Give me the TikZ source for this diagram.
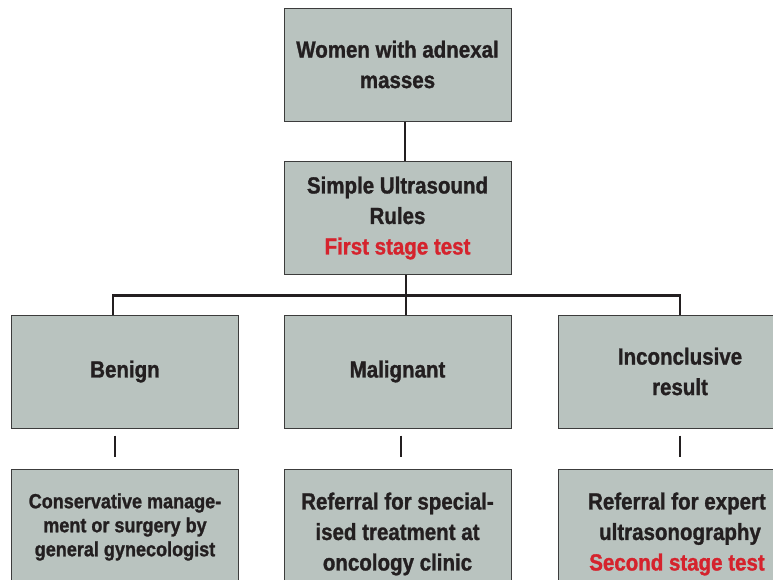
\documentclass[tikz,border=0pt]{standalone}
\usepackage{fontspec}
\setmainfont{Liberation Sans}[FakeStretch=0.88,BoldFeatures={FakeBold=1.2}]
\definecolor{boxfill}{RGB}{185,195,191}
\definecolor{boxline}{RGB}{60,60,60}
\definecolor{ink}{RGB}{35,31,32}
\definecolor{redtxt}{RGB}{213,35,45}
\newcommand{\lsh}{\hspace*{6pt}}
\begin{document}
\begin{tikzpicture}[x=1pt,y=-1pt,
  box/.style={draw=boxline, line width=1pt, fill=boxfill, rectangle, inner sep=0pt,
    minimum width=227pt, minimum height=113pt, align=center, text=ink,
    font=\bfseries\fontsize{23.3}{30.5}\selectfont},
  lowbox/.style={box, minimum height=130pt},
  widebox/.style={minimum width=244pt},
  conn/.style={draw=ink, line width=2.5pt}]
\clip (0,0) rectangle (773,579);
\fill[white] (0,0) rectangle (773,579);
\node[box] (top) at (397.5,64.5) {Women with adnexal\\masses};
\node[box] (sur) at (397.5,218) {Simple Ultrasound\\Rules\\\textcolor{redtxt}{First stage test}};
\node[box] (ben) at (125,371.5) {Benign};
\node[box] (mal) at (397.5,371.5) {Malignant};
\node[box, widebox] (inc) at (680,371.5) {Inconclusive\\result};
\node[lowbox, minimum height=116pt, font=\bfseries\fontsize{20.5}{24}\selectfont] (cons) at (125,527) {Conservative manage-\\ment or surgery by\\general gynecologist};
\node[lowbox] (ref) at (397.5,534) {Referral for special-\\ised treatment at\\oncology clinic};
\node[lowbox, widebox] (exp) at (680,534) {Referral for expert\lsh\\ultrasonography\lsh\\\textcolor{redtxt}{Second stage test}\lsh};
\draw[conn] ([xshift=7.5pt]top.south) -- ([xshift=7.5pt]sur.north);
\draw[conn] ([xshift=8.5pt]sur.south) -- ([xshift=8.5pt]mal.north);
\draw[conn] ([xshift=-12pt]ben.north) -- ++(0,-19) -| (inc.north);
\draw[conn, shorten <=7pt, shorten >=12pt] ([xshift=-10pt]ben.south) -- ([xshift=-10pt]cons.north);
\draw[conn, shorten <=7pt, shorten >=12pt] ([xshift=3.5pt]mal.south) -- ([xshift=3.5pt]ref.north);
\draw[conn, shorten <=7pt, shorten >=12pt] (inc.south) -- (exp.north);
\end{tikzpicture}
\end{document}
